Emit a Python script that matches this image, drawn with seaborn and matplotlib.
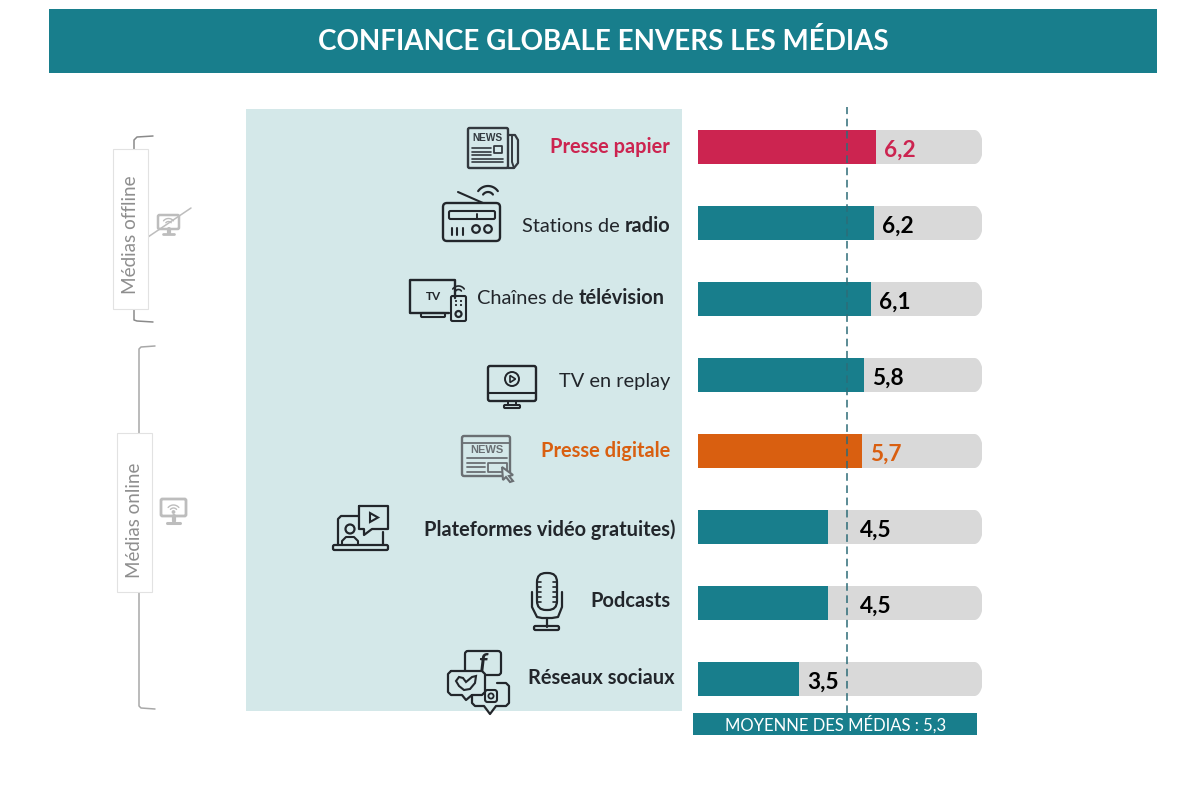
import numpy as np
import pandas as pd
import matplotlib
matplotlib.use("Agg")
import matplotlib.pyplot as plt
from matplotlib.patches import Rectangle, FancyBboxPatch, Circle, Polygon
import seaborn as sns

# ---- data -------------------------------------------------------------
categories = ["Presse papier", "Stations de radio", "Chaînes de télévision", "TV en replay",
              "Presse digitale", "Plateformes vidéo gratuites", "Podcasts", "Réseaux sociaux"]
scores = [6.27, 6.2, 6.09, 5.85, 5.77, 4.58, 4.58, 3.56]
score_labels = ["6,2", "6,2", "6,1", "5,8", "5,7", "4,5", "4,5", "3,5"]
scale_max = [10, 10, 10, 10, 10, 10, 10, 10]
mean_score = 5.26
mean_label = "MOYENNE DES MÉDIAS : 5,3"
title = "CONFIANCE GLOBALE ENVERS LES MÉDIAS"

TEAL = "#187e8c"; RED = "#cc2450"; ORANGE = "#d95f10"; GREY = "#d9d9d9"; PALE = "#d4e8e9"
INK = "#22262b"; SIDE = "#8e8e8e"
bar_colors = [RED, TEAL, TEAL, TEAL, ORANGE, TEAL, TEAL, TEAL]
value_colors = [RED, "black", "black", "black", ORANGE, "black", "black", "black"]

sns.set_theme(style="white")
plt.rcParams["font.family"] = ["Lato", "DejaVu Sans"]

W, H = 1204, 788
fig = plt.figure(figsize=(W / 100, H / 100), dpi=100, facecolor="white")

# overlay in pixel coordinates for the decoration
ov = fig.add_axes([0, 0, 1, 1], zorder=0)
ov.set_xlim(0, W); ov.set_ylim(H, 0); ov.axis("off")

# ---- helpers ----------------------------------------------------------
def L(pts, c=INK, lw=1.6, z=3):
    xs, ys = zip(*pts)
    ov.plot(xs, ys, color=c, lw=lw, solid_capstyle="round", solid_joinstyle="round", zorder=z)

def R(x0, y0, x1, y1, c=INK, lw=1.6, r=1.5, fc="none", z=3):
    ov.add_patch(FancyBboxPatch((x0, y0), x1 - x0, y1 - y0, boxstyle=f"round,pad=0,rounding_size={r}",
                                ec=c, fc=fc, lw=lw, zorder=z))

def C(x, y, r, c=INK, lw=1.6, fc="none", z=3):
    ov.add_patch(Circle((x, y), r, ec=c, fc=fc, lw=lw, zorder=z))

def A(x, y, r, t0=40, t1=140, c=INK, lw=1.6, z=3):
    t = np.radians(np.linspace(t0, t1, 24))
    ov.plot(x + r * np.cos(t), y - r * np.sin(t), color=c, lw=lw, solid_capstyle="round", zorder=z)

def label(right, y, regular="", bold="", color=INK, size=14.45):
    tr = right
    if bold:
        t = ov.text(tr, y, bold, ha="right", va="center", fontsize=size, color=color, weight="bold")
        bb = t.get_window_extent(fig.canvas.get_renderer())
        tr = right - bb.width
    if regular:
        ov.text(tr, y, regular, ha="right", va="center", fontsize=size, color=color)

# ---- background shapes -------------------------------------------------
ov.add_patch(Rectangle((49, 9), 1108, 64, fc=TEAL, ec="none", zorder=1))
ov.text(603.5, 41, title, ha="center", va="center", color="white", fontsize=20, weight="bold", zorder=2)
ov.add_patch(Rectangle((246, 109), 436, 602, fc=PALE, ec="none", zorder=1))
ov.add_patch(Rectangle((693, 713), 284, 22, fc=TEAL, ec="none", zorder=1))
ov.text(836, 724, mean_label, ha="center", va="center", color="white", fontsize=12, zorder=2)

# ---- bars -------------------------------------------------------------
df = pd.DataFrame({"media": categories, "score": scores, "scale": scale_max})
ax = fig.add_axes([698 / W, (H - 717) / H, 284 / W, 608 / H], zorder=2)
ax.patch.set_alpha(0)
sns.barplot(data=df, y="media", x="scale", color=GREY, saturation=1, width=0.447, linewidth=0, ax=ax)
t_end = np.radians(np.linspace(90, -90, 31))
for i, bar in enumerate(list(ax.patches)):
    yc = 147 + 76 * i
    end = list(zip(974.5 + 8.5 * np.cos(t_end), yc + 17 * -np.sin(t_end)))
    clip = Polygon([(640, yc - 17)] + end + [(640, yc + 17)], closed=True, transform=ov.transData, fc="none", ec="none")
    bar.set_clip_path(clip)
sns.barplot(data=df, y="media", x="score", hue="media", palette=bar_colors, saturation=1,
            width=0.447, legend=False, dodge=False, linewidth=0, ax=ax)
ax.set_xlim(0, 10)
ax.set_ylim(7.5, -0.5)
ax.set_xlabel(""); ax.set_ylabel(""); ax.set_xticks([]); ax.set_yticks([])
sns.despine(ax=ax, left=True, bottom=True)
ax.axvline(mean_score, ymin=4 / 608, ymax=1 + 2 / 608, color="#2d6c78", lw=1.1, ls=(0, (5, 3)),
           clip_on=False, zorder=5)

for i, (v, txt, col) in enumerate(zip(scores, score_labels, value_colors)):
    gap = 48 if i in (5, 6) else 24
    ax.annotate(txt, (v, i), xytext=(gap * 0.72, -2.2), textcoords="offset points", ha="center", va="center",
                color=col, fontsize=16.3, weight="bold", zorder=6)

# ---- category labels ---------------------------------------------------
label(670, 147, bold="Presse papier", color=RED)
label(670, 226, "Stations de ", "radio")
label(665, 298, "Chaînes de ", "télévision")
label(670, 381, "TV en replay")
label(670, 451, bold="Presse digitale", color=ORANGE)
label(675, 530, bold="Plateformes vidéo gratuites)")
label(670, 601, bold="Podcasts")
label(675, 678, bold="Réseaux sociaux")

# ---- side brackets -----------------------------------------------------
BR = "#8a8a8a"
L([(153, 136), (137, 137), (134, 140), (134, 320), (137, 321), (153, 322)], BR, 1.1)
L([(155, 346), (141, 347), (139, 349), (139, 706), (141, 708), (155, 709)], "#a8a8a8", 1.1)
ov.add_patch(Rectangle((113, 149), 35, 160, fc="white", ec="#e2e2e2", lw=0.8, zorder=4))
ov.add_patch(Rectangle((117, 433), 35, 159, fc="white", ec="#e2e2e2", lw=0.8, zorder=4))
ov.text(131, 235, "Médias offline", rotation=90, ha="center", va="center", color=SIDE, fontsize=13.6, zorder=5)
ov.text(134.5, 520, "Médias online", rotation=90, ha="center", va="center", color=SIDE, fontsize=13.5, zorder=5)

# monitors
GM = "#bdbdbd"
R(158, 215, 179, 229, GM, 1.8)
L([(168.5, 229), (168.5, 233)], GM, 3); L([(163, 234), (174, 234)], GM, 2)
A(168.5, 225, 3.5, c=GM, lw=1); A(168.5, 225, 6.5, c=GM, lw=1)
L([(148, 237), (191, 208)], GM, 1.1)
R(161, 499, 186, 516, GM, 2)
L([(173.5, 516), (173.5, 521)], GM, 3); L([(167, 522.5), (180, 522.5)], GM, 2.2)
C(173.5, 512, 1.2, GM, 1, GM); A(173.5, 512, 4, c=GM, lw=1); A(173.5, 512, 7, c=GM, lw=1)

# ---- icons -------------------------------------------------------------
# newspaper
IC = "#33393f"
R(468, 128, 508, 168, IC, 1.7)
ov.text(487.5, 137.5, "NEWS", ha="center", va="center", fontsize=7.3, weight="bold", color=IC,
        family="Liberation Sans")
for y in (148, 152, 155):
    L([(472, y), (491, y)], IC, 1.2)
for y in (158.5, 162):
    L([(472, y), (503, y)], IC, 1.2)
R(494, 146, 502, 153, IC, 1.3, r=0.3)
L([(508, 135), (515, 135), (518, 140), (518, 163), (514, 168), (508, 168)], IC, 1.6)
L([(512, 136), (512, 162), (514, 168)], IC, 1.4)

# radio
R(443, 203, 500, 241, INK, 1.7, r=4)
R(449, 211, 495, 219, INK, 1.5, r=1.5)
L([(477, 214), (477, 219)], INK, 1.4)
for x in (452, 457, 463):
    L([(x, 228), (x, 235)], INK, 1.5)
C(476, 229, 3.8); C(488, 229, 3.8)
L([(458, 192), (483, 203)], INK, 1.5)
A(488, 198, 6, 35, 145); A(488, 198, 12, 35, 145)

# television
L([(455, 298), (455, 280), (410, 280), (410, 313), (449, 313)], INK, 1.7)
R(421, 313, 445, 317, INK, 1.5, r=1)
ov.text(433.5, 296, "TV", ha="center", va="center", fontsize=8.5, weight="bold", color=INK)
R(451, 296, 466, 321, INK, 1.5, r=1.5)
C(458.5, 314, 3)
for x in (456, 461):
    for y in (301, 305):
        C(x, y, 0.5, INK, 0.8, INK)
A(458.5, 293, 3.5, 35, 145, lw=1.2); A(458.5, 293, 7, 35, 145, lw=1.2)

# replay TV
R(488, 366, 536, 401, INK, 1.7, r=2)
L([(488, 393), (536, 393)], INK, 1.5)
L([(508, 401), (508, 405)], INK, 1.4); L([(516, 401), (516, 405)], INK, 1.4)
R(504, 405, 520, 408, INK, 1.5, r=1)
C(512, 379, 7, INK, 1.4)
ov.add_patch(Polygon([(510, 375.5), (510, 382.5), (515.5, 379)], closed=True, ec=INK, fc="none", lw=1.2, zorder=3))

# digital press
GN = "#6a6f73"
R(462, 436, 510, 476, GN, 1.7, r=2)
L([(462, 442.5), (510, 442.5)], GN, 1.3)
ov.text(486.5, 450, "NEWS", ha="center", va="center", fontsize=8, weight="bold", color=GN,
        family="Liberation Sans")
L([(467, 458), (507, 458)], GN, 1.3)
for y in (463, 467, 471.5):
    L([(467, y), (485, y)], GN, 1.3)
R(488, 463, 507, 472, GN, 1.3, r=0.3)
ov.add_patch(Polygon([(502, 467), (513, 475), (509, 476), (513, 481), (510, 482), (506, 477), (503, 480)],
                     closed=True, ec=GN, fc=PALE, lw=1.5, zorder=4))

# video platform
L([(358, 516), (341, 516), (338, 519), (338, 545)], INK, 1.6)
L([(383, 532), (383, 545)], INK, 1.6)
R(333, 545, 388, 550, INK, 1.6, r=1.5)
L([(359, 506), (388, 506), (388, 529), (372, 529), (364, 535), (364, 529), (359, 529), (359, 506)], INK, 1.6)
ov.add_patch(Polygon([(370, 513), (370, 522), (378, 517.5)], closed=True, ec=INK, fc="none", lw=1.5, zorder=3))
C(350, 529, 4.5)
L([(342, 544), (342, 541), (346, 537), (354, 537), (358, 541), (358, 544)], INK, 1.5)

# microphone
R(537, 573, 557, 610, INK, 1.6, r=9)
for y in (582, 587, 592, 597, 602):
    L([(537, y), (541, y)], INK, 1.2); L([(553, y), (557, y)], INK, 1.2)
L([(532, 592), (532, 607), (537, 617), (542, 618), (552, 618), (558, 617), (562, 607), (562, 592)], INK, 1.6)
L([(547, 618), (547, 627)], INK, 1.6)
R(534, 626, 559, 630, INK, 1.6, r=1.5)

# social networks
R(465, 651, 501, 675, INK, 1.6, r=3, z=3)
ov.text(482, 663, "f", ha="center", va="center", fontsize=18, weight="bold", color=INK, style="italic", zorder=3)
L([(472, 695), (472, 703), (475, 706), (484, 706), (490, 714), (496, 706), (506, 706), (509, 703),
   (509, 686), (506, 683), (497, 683)], INK, 1.6)
R(485, 690, 497, 702, INK, 1.5, r=2.5)
C(491, 696, 2.6, INK, 1.3)
L([(451, 671), (482, 671), (485, 674), (485, 692), (482, 695), (472, 695), (466, 700), (462, 695), (451, 695),
   (448, 692), (448, 674), (451, 671)], INK, 1.6, z=4)
ov.add_patch(Rectangle((449, 672), 35, 22, fc=PALE, ec="none", zorder=3.5))
ov.add_patch(Polygon([(456, 681), (459, 677), (463, 678), (466, 682), (472, 677), (476, 676), (475, 683),
                      (470, 689), (464, 690), (459, 686)],
                     closed=True, ec=INK, fc="none", lw=1.5, zorder=4))

fig.savefig("out.png", dpi=100, facecolor="white")
